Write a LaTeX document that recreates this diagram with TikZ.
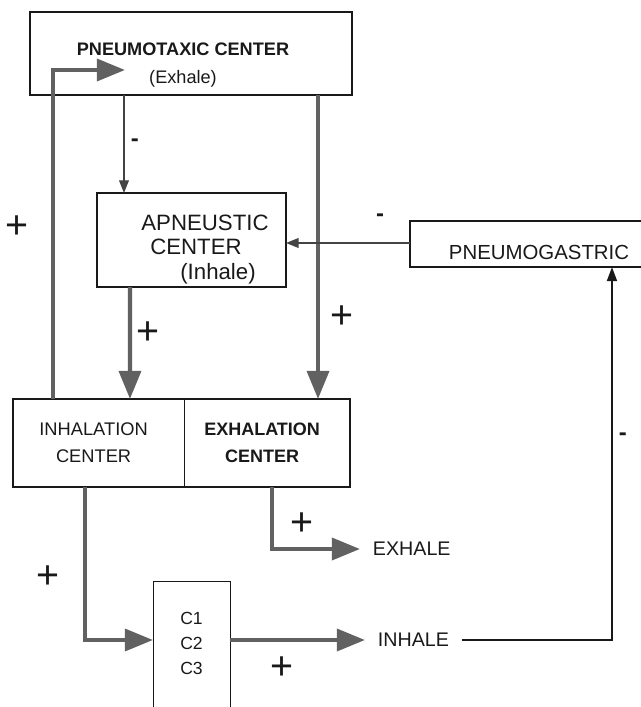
\documentclass[tikz,border=0pt]{standalone}
\usepackage{fontspec}
\setmainfont{Liberation Sans}
\usepackage{tikz}
\usetikzlibrary{arrows.meta, calc, positioning}

\definecolor{inkgray}{gray}{0.1}
\definecolor{flowgray}{gray}{0.38}

\begin{document}
\begin{tikzpicture}[x=0.025cm, y=-0.025cm,
    box/.style={draw=inkgray, line width=1pt, outer sep=0pt, align=center, text=inkgray},
    half/.style={outer sep=0pt, minimum height=2.2cm, align=center, text=inkgray, font=\fontsize{13}{19.2}\selectfont},
    outtext/.style={inner xsep=9pt, text=inkgray, font=\fontsize{14}{16}\selectfont},
    bigarrow/.style={draw=flowgray, line width=3pt, -{Triangle[length=20pt, width=15.5pt]}},
    medarrow/.style={draw=inkgray, line width=1.6pt, -{Triangle[length=10pt, width=7pt]}},
    thinarrow/.style={draw=flowgray!70!black, line width=0.9pt, -{Triangle[length=9pt, width=7pt]}},
    sign/.style={text=inkgray, inner sep=0pt, font=\fontsize{28}{28}\selectfont},
    minus/.style={sign, font=\fontsize{17}{17}\selectfont\bfseries}]
    \useasboundingbox (0,0) rectangle (640,707);

    % Pneumotaxic center
    \node[box, line width=1.4pt, minimum width=8.05cm, minimum height=2.075cm, font=\fontsize{12.9}{19.9}\selectfont] (ptx) at (191,53.5)
        {\rule{0pt}{25pt}\textbf{PNEUMOTAXIC CENTER}\hspace*{11.4pt}\\(Exhale)\hspace*{11.4pt}};

    % Apneustic center
    \node[box, inner ysep=1pt, minimum width=4.725cm, minimum height=2.35cm, font=\fontsize{15.8}{17.5}\selectfont] (apn) at (191.5,240)
        {\rule{0pt}{24.6pt}\hspace*{19.2pt}APNEUSTIC\\\hspace*{6.4pt}CENTER\\\hspace*{37.7pt}(Inhale)};

    % Pneumogastric (box runs off the page)
    \node[box, minimum width=6.45cm, minimum height=1.15cm, font=\fontsize{14.5}{16}\selectfont] (pg) at (539,244)
        {\rule{0pt}{21.7pt}PNEUMOGASTRIC};

    % Inhalation / exhalation centers
    \node[half, minimum width=4.275cm] (inh) at (98.5,443) {INHALATION\hspace*{7pt}\\CENTER\hspace*{7pt}};
    \node[half, minimum width=4.15cm, font=\fontsize{12.8}{19.2}\selectfont\bfseries] (exh) at (267,443) {EXHALATION\hspace*{7pt}\\CENTER\hspace*{7pt}};
    \draw[inkgray, line width=1.2pt] (inh.north west) rectangle (exh.south east);
    \draw[inkgray, line width=0.5pt] (inh.north east) -- (inh.south east);

    % C1 - C3
    \node[text=inkgray, outer sep=0pt, minimum width=1.925cm, minimum height=3.05cm, align=center, font=\fontsize{12.5}{17.8}\selectfont] (cbox) at (191.5,643) {C1\\C2\\C3};
    \draw[inkgray, line width=0.7pt] ($(cbox.south west)+(0,3)$) -- (cbox.north west) -- (cbox.north east) -- ($(cbox.south east)+(0,3)$);

    % Outputs
    \node[outtext, anchor=west] (exhale) at (360,549) {EXHALE};
    \node[outtext, anchor=west] (inhale) at (365,640) {INHALE};

    \coordinate (ptxin) at (125,70);
    \coordinate (apnin) at ($(apn.north west)+(27,0)$);
    \coordinate (exhin) at ($(exh.north east)+(-32,0)$);
    \coordinate (pgin) at ($(pg.south west)+(202,0)$);

    % Arrows
    \draw[bigarrow] ($(inh.north west)+(40,0)$) |- node[sign, pos=0.261, xshift=-25.6pt] (s1) {+} (ptxin);
    \draw[thinarrow] (ptx.south -| apnin) -- node[minus, pos=0.49, xshift=7.8pt] (s2) {-} (apnin);
    \draw[bigarrow] (ptx.south -| exhin) -- node[sign, pos=0.73, xshift=17pt] (s3) {+} (exhin);
    \draw[bigarrow] ($(apn.south west)+(33,0)$) -- node[sign, pos=0.41, xshift=12.8pt] (s4) {+} ($(inh.north west)+(117,0)$);
    \draw[thinarrow, line width=1pt] (pg.west |- 0,243) -- node[minus, pos=0.24, yshift=17.8pt] (s5) {-} (apn.east |- 0,243);

    \draw[bigarrow] ($(exh.south)+(5,0)$) |- node[sign, pos=0.30, xshift=21.3pt] (s6) {+} (exhale.west);
    \draw[bigarrow] ($(inh.south)+(-13.5,0)$) |- node[sign, pos=0.294, xshift=-26.3pt] (s7) {+} (cbox.west |- 0,640);
    \draw[bigarrow] (cbox.east |- 0,640) -- node[sign, pos=0.385, yshift=-19.9pt] (s8) {+} (inhale.west);
    \draw[medarrow] (inhale.east) -| node[minus, pos=0.772, xshift=7.8pt] (s9) {-} (pgin);
\end{tikzpicture}
\end{document}
